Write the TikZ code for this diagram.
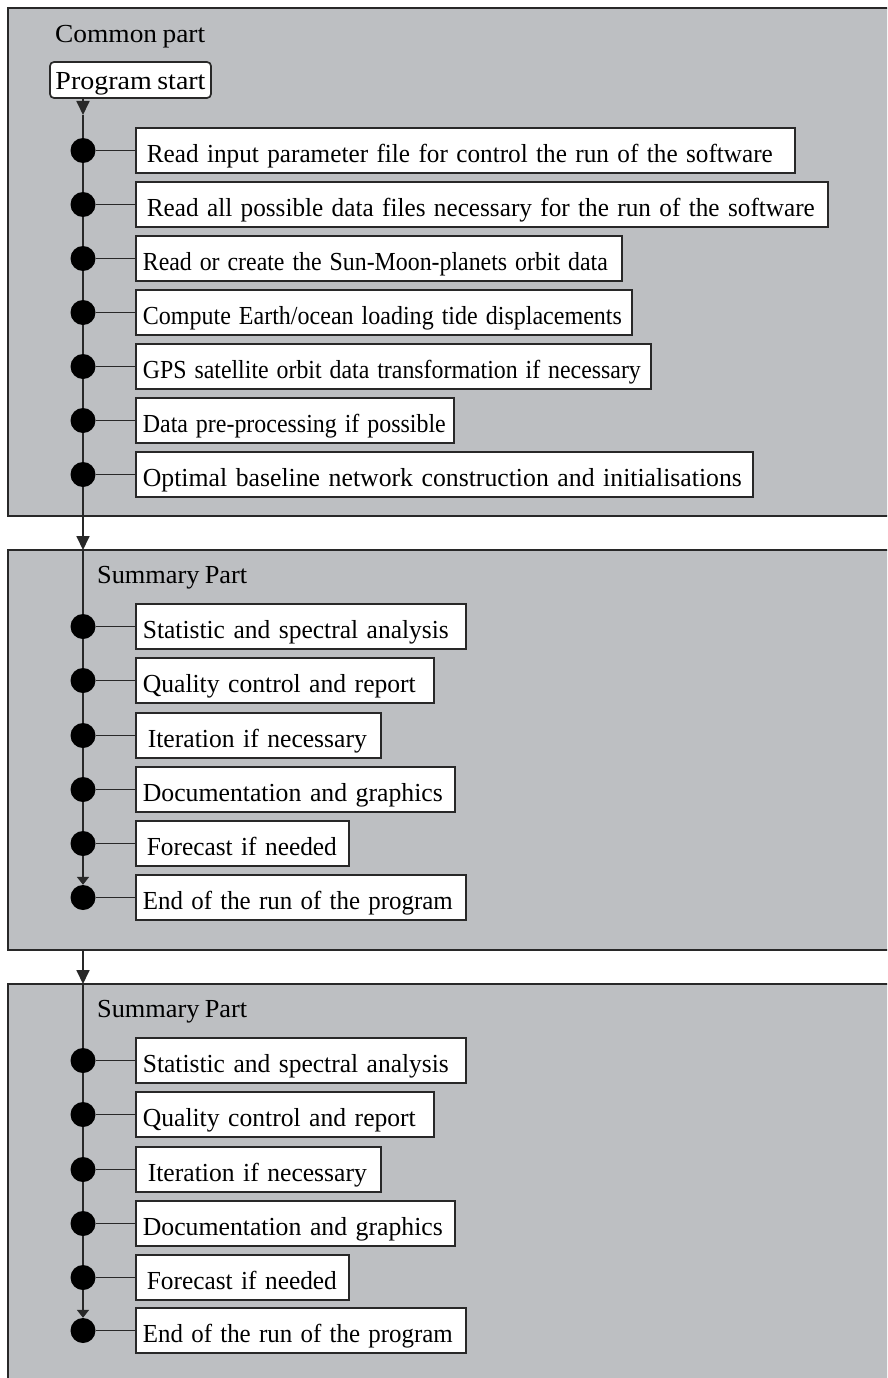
\documentclass[tikz,border=0pt]{standalone}
\usepackage{graphicx}
\usepackage{fontspec}
\setmainfont{Liberation Serif}[WordSpace=0.8]
\usetikzlibrary{arrows.meta}
\definecolor{panelgray}{RGB}{189,191,194}
\definecolor{linec}{RGB}{40,40,40}
\newcommand{\fw}[2]{\resizebox{#1}{\height}{#2}}
\begin{document}
\begin{tikzpicture}[x=1pt,y=-1pt,
  every node/.style={font=\fontsize{26}{30}\selectfont},
  panel/.style={draw=linec, line width=1.8pt, fill=panelgray},
  stepbox/.style={draw=linec, line width=1.7pt, fill=white, anchor=west,
    minimum height=45pt, inner xsep=7pt, inner ysep=2pt,
    text height=26pt, text depth=2pt, align=left},
  startbox/.style={draw=linec, line width=1.7pt, fill=white, rounded corners=4pt,
    minimum height=36pt, minimum width=161pt, inner xsep=3pt, inner ysep=1pt,
    text height=25pt, text depth=5pt},
  dot/.style={circle, fill=black, draw=none, inner sep=0pt, minimum size=25pt},
  link/.style={draw=linec, line width=1.8pt},
  flow/.style={link, -{Triangle[width=13pt,length=14pt]}},
  flowin/.style={link, -{Triangle[width=12pt,length=8pt]}},
  title/.style={anchor=base west, inner sep=0pt},
]
\useasboundingbox (0,0) rectangle (887,1378);
\clip (0,0) rectangle (887,1378);

% panels
\path[panel] (8,8) rectangle (900,516);
\path[panel] (8,550) rectangle (900,950);
\path[panel] (8,984) rectangle (900,1400);

% titles
\node[title] (t1) at (55,43) {\fw{150pt}{Common part}};
\node[title] (t2) at (97,583) {\fw{150pt}{Summary Part}};
\node[title] (t3) at (97,1017) {\fw{150pt}{Summary Part}};

% start
\node[startbox] (start) at (130.5,80) {\fw{150pt}{Program start}};

% panel 1 boxes
\node[stepbox, text width=645pt] (b1) at (135,150.5) {\hspace{4pt}\fw{626pt}{Read input parameter file for control the run of the software}};
\node[stepbox, text width=678pt] (b2) at (135,204.5) {\hspace{4pt}\fw{668pt}{Read all possible data files necessary for the run of the software}};
\node[stepbox, text width=472pt] (b3) at (135,258.5) {\fw{465pt}{Read or create the Sun-Moon-planets orbit data}};
\node[stepbox, text width=482pt] (b4) at (135,312.5) {\fw{479pt}{Compute Earth/ocean loading tide displacements}};
\node[stepbox, text width=501pt] (b5) at (135,366.5) {\fw{498pt}{GPS satellite orbit data transformation if necessary}};
\node[stepbox, text width=304pt] (b6) at (135,420.5) {\fw{303pt}{Data pre-processing if possible}};
\node[stepbox, text width=603pt] (b7) at (135,474.5) {\fw{599pt}{Optimal baseline network construction and initialisations}};

\foreach \i/\y in {1/150.5,2/204.5,3/258.5,4/312.5,5/366.5,6/420.5,7/474.5}
  \node[dot] (d\i) at (83,\y) {};

% panel 2 boxes
\node[stepbox, text width=316pt] (s1) at (135,626.5) {\fw{306pt}{Statistic and spectral analysis}};
\node[stepbox, text width=284pt] (s2) at (135,680.5) {\fw{273pt}{Quality control and report}};
\node[stepbox, text width=231pt] (s3) at (135,735.5) {\hspace{5pt}\fw{219pt}{Iteration if necessary}};
\node[stepbox, text width=305pt] (s4) at (135,789.5) {\fw{300pt}{Documentation and graphics}};
\node[stepbox, text width=199pt] (s5) at (135,843.5) {\hspace{4pt}\fw{190pt}{Forecast if needed}};
\node[stepbox, text width=316pt] (s6) at (135,897.5) {\fw{310pt}{End of the run of the program}};

\foreach \i/\y in {1/626.5,2/680.5,3/735.5,4/789.5,5/843.5,6/897.5}
  \node[dot] (e\i) at (83,\y) {};

% panel 3 boxes
\node[stepbox, text width=316pt] (u1) at (135,1060.5) {\fw{306pt}{Statistic and spectral analysis}};
\node[stepbox, text width=284pt] (u2) at (135,1114.5) {\fw{273pt}{Quality control and report}};
\node[stepbox, text width=231pt] (u3) at (135,1169.5) {\hspace{5pt}\fw{219pt}{Iteration if necessary}};
\node[stepbox, text width=305pt] (u4) at (135,1223.5) {\fw{300pt}{Documentation and graphics}};
\node[stepbox, text width=199pt] (u5) at (135,1277.5) {\hspace{4pt}\fw{190pt}{Forecast if needed}};
\node[stepbox, text width=316pt] (u6) at (135,1330.5) {\fw{310pt}{End of the run of the program}};

\foreach \i/\y in {1/1060.5,2/1114.5,3/1169.5,4/1223.5,5/1277.5,6/1330.5}
  \node[dot] (f\i) at (83,\y) {};

% coordinates
\coordinate (a0) at (83,115);
\coordinate (p2top) at (83,550);
\coordinate (p2bot) at (83,950);
\coordinate (p3top) at (83,984);

% vertical flow
\draw[flow] (start.south -| a0) -- (a0);
\draw[link] (a0) -- (d1) -- (d2) -- (d3) -- (d4) -- (d5) -- (d6) -- (d7);
\draw[flow] (d7) -- (p2top);
\draw[link] (p2top) -- (e1) -- (e2) -- (e3) -- (e4) -- (e5);
\draw[flowin] (e5) -- (e6);
\draw[flow] (p2bot) -- (p3top);
\draw[link] (p3top) -- (f1) -- (f2) -- (f3) -- (f4) -- (f5);
\draw[flowin] (f5) -- (f6);

% horizontal connectors
\foreach \i in {1,...,7} \draw[link] (d\i) -- (b\i.west);
\foreach \i in {1,...,6} \draw[link] (e\i) -- (s\i.west);
\foreach \i in {1,...,6} \draw[link] (f\i) -- (u\i.west);
\end{tikzpicture}
\end{document}
